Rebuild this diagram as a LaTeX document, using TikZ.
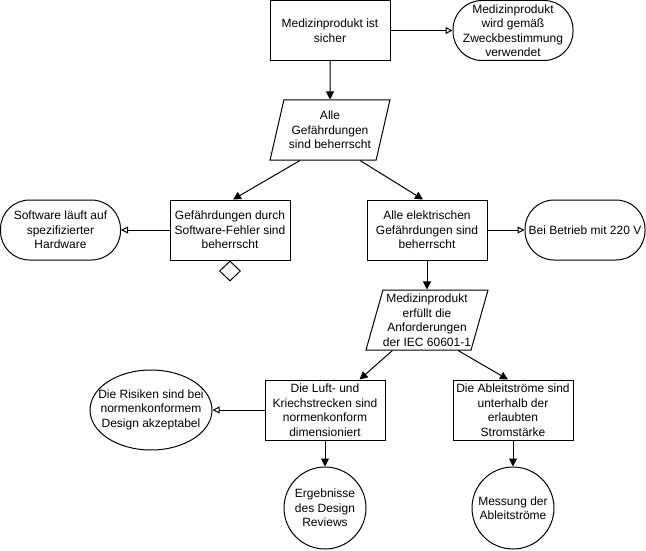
\documentclass[tikz,border=0pt]{standalone}
\usepackage{fontspec}
\setmainfont{Liberation Sans}
\usetikzlibrary{shapes.geometric,arrows.meta,calc}
\tikzset{
  base/.style={draw=black,line width=1pt,inner sep=0pt,align=center,font=\fontsize{12}{14.5}\selectfont},
  goal/.style={base,rectangle,minimum width=120pt,minimum height=60pt},
  ctx/.style={base,rectangle,rounded corners=29pt,minimum width=120pt,minimum height=60pt},
  strat/.style={base,trapezium,trapezium left angle=72,trapezium right angle=108,trapezium stretches=true,minimum width=120pt,minimum height=60pt},
  sol/.style={base,circle,minimum size=82pt},
  assum/.style={base,ellipse,minimum width=122pt,minimum height=80pt},
  und/.style={base,diamond,minimum width=21pt,minimum height=20pt},
  sup/.style={line width=1pt,-{Triangle[length=8pt,width=8pt]}},
  incx/.style={line width=1pt,-{Triangle[open,length=7pt,width=7pt,fill=white]}},
}
\begin{document}
\begin{tikzpicture}[x=1pt,y=-1pt]
\useasboundingbox (0,0) rectangle (646,551);
\node[goal] (tb) at (330,30.5) {Medizinprodukt ist\\sicher};
\node[ctx] (c1) at (513,30.5) {Medizinprodukt\\wird gemäß\\Zweckbestimmung\\verwendet};
\node[strat] (p1) at (330,130) {Alle\\Gefährdungen\\sind beherrscht};
\node[goal] (sw) at (230,230) {Gefährdungen durch\\Software-Fehler sind\\beherrscht};
\node[und] (dia) at (230,271) {};
\node[ctx] (c2) at (60.5,230) {Software läuft auf\\spezifizierter\\Hardware};
\node[goal] (el) at (427,230) {Alle elektrischen\\Gefährdungen sind\\beherrscht};
\node[ctx] (c3) at (585,230) {Bei Betrieb mit 220 V};
\node[strat] (p2) at (427,320) {Medizinprodukt\\erfüllt die\\Anforderungen\\der IEC 60601-1};
\node[goal] (lk) at (325,410) {Die Luft- und\\Kriechstrecken sind\\normenkonform\\dimensioniert};
\node[goal] (ab) at (513,410) {Die Ableitströme sind\\unterhalb der\\erlaubten\\Stromstärke};
\node[assum] (ri) at (151,410) {\makebox[0pt]{\begin{tabular}{@{}c@{}}Die Risiken sind bei\\normenkonformem\\Design akzeptabel\end{tabular}}};
\node[sol] (er) at (325,508) {Ergebnisse\\des Design\\Reviews};
\node[sol] (me) at (513,508) {Messung der\\Ableitströme};

\draw[incx] (tb.east) -- (c1.west);
\draw[sup] (tb.south) -- (p1.north);
\draw[sup] ($(p1.south)+(-30,0)$) -- ($(sw.north)+(3,0)$);
\draw[sup] ($(p1.south)+(30,0)$) -- ($(el.north)+(-4,0)$);
\draw[incx] (sw.west) -- (c2.east);
\draw[incx] (el.east) -- (c3.west);
\draw[sup] (el.south) -- (el.south |- p2.north);
\draw[sup] (p2) -- (lk);
\draw[sup] ($(p2.south)+(31,0)$) -- ($(ab.north)+(-5,0)$);
\draw[incx] (lk.west) -- (ri.east);
\draw[sup] (lk.south) -- (er.north);
\draw[sup] (ab.south) -- (me.north);
\end{tikzpicture}
\end{document}
